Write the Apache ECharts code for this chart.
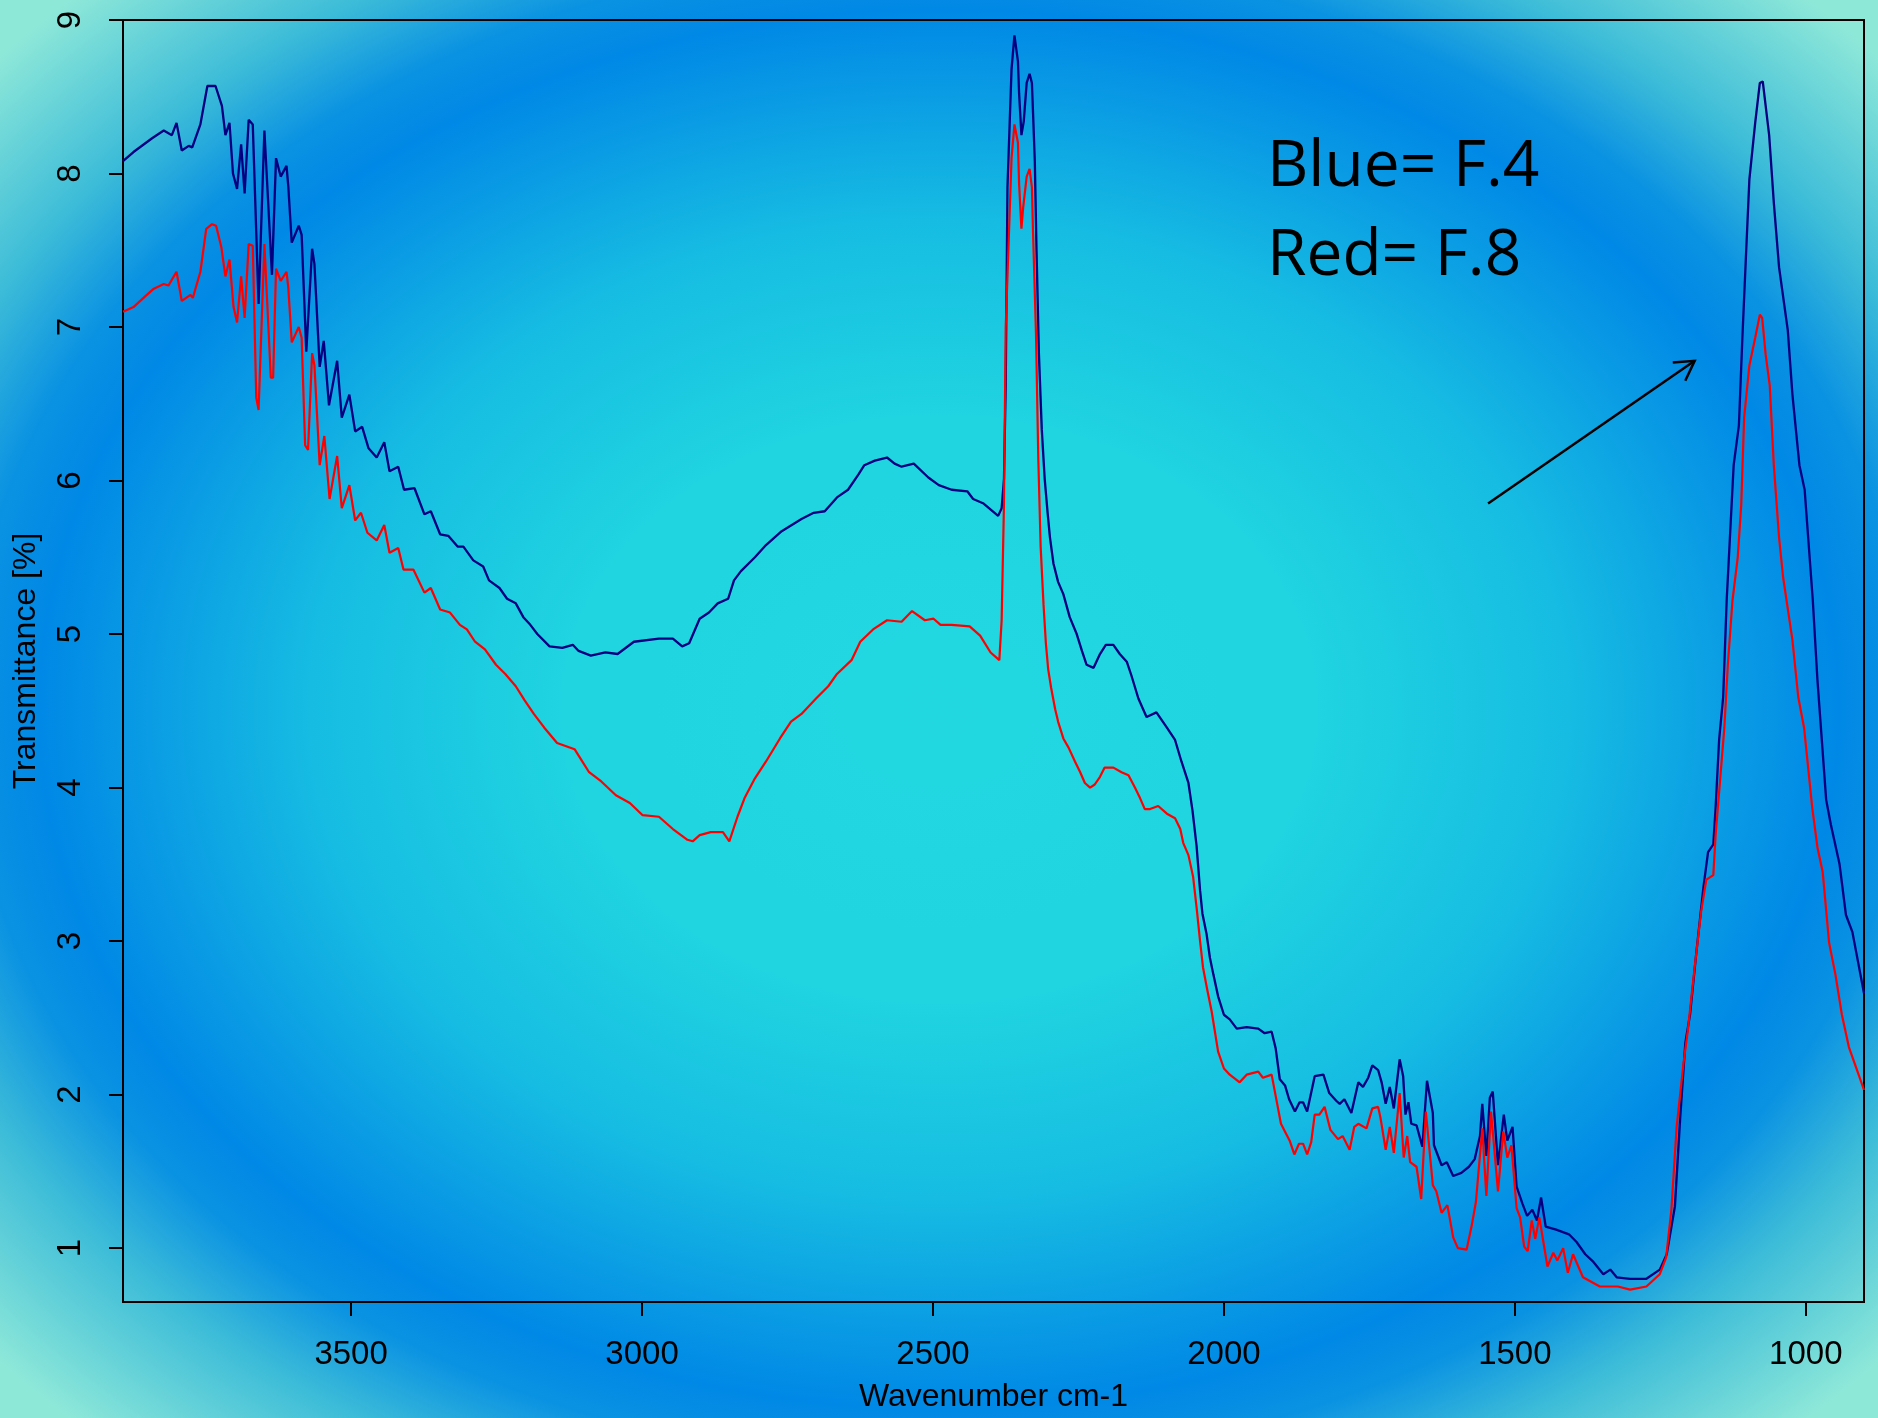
<!DOCTYPE html>
<html>
<head>
<meta charset="utf-8">
<title>FTIR F.4 / F.8</title>
<script src="https://cdn.jsdelivr.net/npm/echarts@6/dist/echarts.min.js"></script>
<style>
  html, body { margin: 0; padding: 0; }
  #main {
    width: 1878px;
    height: 1418px;
    /* slide background: cyan centre, blue ring, aqua corners */
    background: radial-gradient(ellipse 900px 700px at 50% 50%,
      #22d8e0 0%, #20d4e0 42%, #16bce2 70%, #0a9ce4 88%, #0088e6 100%,
      #0a92e2 108%, #3cbcd8 120%, #8ee8d8 140%);
  }
</style>
</head>
<body>
<div id="main"></div>
<script>
// tick values
const xTicks = [1000, 1500, 2000, 2500, 3000, 3500]
const yTicks = [1, 2, 3, 4, 5, 6, 7, 8, 9]

// blue = F.4 (wavenumber, transmittance)
const blueWn = [3892, 3874, 3842, 3822, 3808, 3800, 3791, 3779, 3773, 3759, 3747, 3733, 3722, 3716, 3709, 3703, 3696, 3689, 3683, 3676,
  3669, 3659, 3649, 3636, 3629, 3621, 3611, 3608, 3602, 3590, 3585, 3577, 3567, 3563, 3554, 3547, 3538, 3524, 3516, 3503,
  3493, 3481, 3470, 3456, 3443, 3434, 3419, 3409, 3391, 3374, 3363, 3347, 3333, 3317, 3307, 3290, 3273, 3263, 3245, 3232,
  3217, 3204, 3192, 3180, 3159, 3137, 3119, 3109, 3088, 3063, 3042, 3014, 2971, 2947, 2931, 2919, 2901, 2885, 2870, 2852,
  2842, 2830, 2806, 2787, 2760, 2726, 2705, 2686, 2665, 2646, 2628, 2618, 2600, 2579, 2566, 2554, 2533, 2508, 2490, 2468,
  2441, 2431, 2413, 2388, 2382, 2378, 2375, 2372, 2365, 2360, 2357, 2354, 2352, 2348, 2344, 2339, 2334, 2330, 2328, 2325,
  2322, 2318, 2313, 2308, 2303, 2299, 2293, 2285, 2276, 2265, 2253, 2244, 2236, 2224, 2213, 2203, 2190, 2179, 2167, 2159,
  2147, 2133, 2116, 2098, 2084, 2073, 2061, 2054, 2047, 2041, 2037, 2030, 2024, 2018, 2010, 2000, 1990, 1978, 1961, 1941,
  1930, 1918, 1911, 1904, 1895, 1888, 1878, 1870, 1864, 1857, 1844, 1829, 1819, 1807, 1801, 1793, 1781, 1769, 1761, 1752,
  1745, 1735, 1729, 1722, 1715, 1708, 1698, 1692, 1688, 1683, 1678, 1669, 1659, 1651, 1641, 1639, 1626, 1617, 1606, 1592,
  1579, 1569, 1560, 1556, 1549, 1543, 1538, 1529, 1519, 1513, 1504, 1497, 1487, 1479, 1470, 1462, 1455, 1447, 1429, 1407,
  1394, 1379, 1365, 1348, 1336, 1325, 1302, 1274, 1251, 1239, 1225, 1216, 1207, 1199, 1188, 1176, 1168, 1159, 1155, 1149,
  1142, 1136, 1124, 1115, 1109, 1103, 1097, 1087, 1079, 1074, 1063, 1055, 1046, 1031, 1023, 1011, 1002, 988, 980, 965,
  957, 942, 931, 920, 900]
const blueT = [8.08, 8.14, 8.23, 8.28, 8.25, 8.33, 8.15, 8.18, 8.17, 8.32, 8.57, 8.57, 8.44, 8.25, 8.33, 8.00, 7.90, 8.19, 7.87, 8.35,
  8.32, 7.15, 8.28, 7.34, 8.10, 7.98, 8.05, 7.92, 7.55, 7.66, 7.60, 6.84, 7.51, 7.41, 6.74, 6.91, 6.49, 6.78, 6.41, 6.56,
  6.32, 6.35, 6.21, 6.15, 6.25, 6.06, 6.09, 5.94, 5.95, 5.78, 5.80, 5.65, 5.64, 5.57, 5.57, 5.48, 5.44, 5.35, 5.30, 5.23,
  5.20, 5.11, 5.06, 5.00, 4.92, 4.91, 4.93, 4.89, 4.86, 4.88, 4.87, 4.95, 4.97, 4.97, 4.92, 4.94, 5.10, 5.14, 5.20, 5.23,
  5.35, 5.41, 5.50, 5.58, 5.67, 5.75, 5.79, 5.80, 5.89, 5.94, 6.04, 6.10, 6.13, 6.15, 6.11, 6.09, 6.11, 6.02, 5.97, 5.94,
  5.93, 5.88, 5.85, 5.77, 5.82, 6.01, 6.62, 7.91, 8.68, 8.90, 8.90, 8.73, 8.52, 8.25, 8.34, 8.59, 8.65, 8.59, 8.39, 8.08,
  7.49, 6.83, 6.33, 6.01, 5.79, 5.63, 5.46, 5.34, 5.26, 5.11, 5.00, 4.89, 4.80, 4.78, 4.87, 4.93, 4.93, 4.87, 4.82, 4.73,
  4.58, 4.46, 4.49, 4.39, 4.31, 4.17, 4.03, 3.85, 3.62, 3.33, 3.18, 3.05, 2.89, 2.78, 2.64, 2.52, 2.49, 2.43, 2.44, 2.43,
  2.40, 2.41, 2.30, 2.10, 2.06, 1.97, 1.89, 1.95, 1.95, 1.89, 2.12, 2.13, 2.01, 1.96, 1.94, 1.97, 1.88, 2.08, 2.05, 2.11,
  2.19, 2.16, 2.08, 1.94, 2.05, 1.91, 2.23, 2.12, 1.87, 1.95, 1.81, 1.80, 1.66, 2.09, 1.88, 1.67, 1.54, 1.56, 1.47, 1.49,
  1.53, 1.58, 1.73, 1.94, 1.60, 1.98, 2.02, 1.54, 1.87, 1.70, 1.79, 1.40, 1.29, 1.21, 1.25, 1.18, 1.33, 1.14, 1.12, 1.09,
  1.04, 0.96, 0.91, 0.83, 0.86, 0.81, 0.80, 0.80, 0.86, 0.96, 1.27, 1.84, 2.34, 2.52, 2.93, 3.35, 3.58, 3.63, 3.87, 4.31,
  4.59, 5.22, 6.10, 6.36, 6.93, 7.45, 7.96, 8.33, 8.59, 8.60, 8.25, 7.81, 7.39, 6.98, 6.56, 6.10, 5.94, 5.22, 4.70, 3.92,
  3.76, 3.50, 3.17, 3.06, 2.66]

// red = F.8
const redWn = [3892, 3874, 3854, 3839, 3822, 3814, 3800, 3791, 3776, 3772, 3759, 3749, 3739, 3732, 3723, 3716, 3709, 3702, 3696, 3689,
  3683, 3676, 3669, 3663, 3659, 3649, 3642, 3638, 3634, 3629, 3621, 3611, 3608, 3602, 3590, 3585, 3579, 3574, 3567, 3563,
  3554, 3546, 3537, 3524, 3516, 3503, 3493, 3483, 3472, 3456, 3443, 3434, 3419, 3410, 3393, 3374, 3363, 3347, 3330, 3313,
  3301, 3287, 3270, 3251, 3235, 3217, 3202, 3186, 3168, 3146, 3116, 3106, 3091, 3070, 3045, 3021, 2999, 2971, 2947, 2922,
  2913, 2901, 2882, 2861, 2850, 2836, 2824, 2806, 2787, 2763, 2744, 2726, 2701, 2680, 2665, 2640, 2625, 2603, 2579, 2554,
  2536, 2514, 2499, 2487, 2468, 2437, 2419, 2401, 2386, 2382, 2378, 2375, 2365, 2360, 2357, 2354, 2352, 2348, 2345, 2339,
  2334, 2330, 2328, 2323, 2319, 2315, 2310, 2306, 2302, 2297, 2290, 2285, 2276, 2267, 2256, 2247, 2239, 2230, 2222, 2213,
  2205, 2190, 2176, 2164, 2153, 2144, 2136, 2127, 2113, 2098, 2084, 2075, 2070, 2061, 2053, 2047, 2041, 2036, 2029, 2021,
  2010, 2000, 1990, 1973, 1961, 1941, 1933, 1918, 1911, 1902, 1887, 1879, 1871, 1864, 1857, 1850, 1844, 1836, 1827, 1817,
  1804, 1796, 1784, 1776, 1769, 1755, 1745, 1735, 1731, 1722, 1715, 1708, 1698, 1691, 1685, 1680, 1669, 1661, 1653, 1641,
  1635, 1626, 1616, 1606, 1598, 1583, 1574, 1567, 1556, 1549, 1541, 1529, 1520, 1513, 1506, 1497, 1491, 1484, 1478, 1471,
  1465, 1458, 1444, 1434, 1427, 1417, 1409, 1400, 1383, 1354, 1323, 1302, 1274, 1251, 1240, 1231, 1222, 1210, 1203, 1191,
  1180, 1171, 1159, 1155, 1149, 1140, 1134, 1126, 1117, 1111, 1106, 1097, 1087, 1079, 1075, 1069, 1062, 1055, 1046, 1039,
  1023, 1013, 1003, 989, 980, 971, 960, 949, 938, 926, 912, 900]
const redT = [7.10, 7.13, 7.20, 7.25, 7.28, 7.27, 7.36, 7.17, 7.21, 7.19, 7.36, 7.64, 7.67, 7.66, 7.52, 7.33, 7.44, 7.13, 7.03, 7.33,
  7.06, 7.54, 7.53, 6.54, 6.46, 7.54, 6.99, 6.67, 6.67, 7.38, 7.30, 7.36, 7.26, 6.90, 7.00, 6.93, 6.23, 6.20, 6.83, 6.75,
  6.10, 6.29, 5.88, 6.16, 5.82, 5.97, 5.74, 5.79, 5.66, 5.61, 5.71, 5.53, 5.56, 5.42, 5.42, 5.27, 5.30, 5.16, 5.14, 5.06,
  5.03, 4.95, 4.90, 4.80, 4.74, 4.66, 4.57, 4.48, 4.39, 4.29, 4.25, 4.19, 4.10, 4.04, 3.95, 3.90, 3.82, 3.81, 3.73, 3.66,
  3.65, 3.69, 3.71, 3.71, 3.65, 3.81, 3.93, 4.06, 4.17, 4.32, 4.43, 4.48, 4.58, 4.66, 4.74, 4.83, 4.95, 5.03, 5.09, 5.08,
  5.15, 5.09, 5.10, 5.06, 5.06, 5.05, 4.99, 4.88, 4.83, 5.09, 5.85, 7.00, 8.10, 8.32, 8.31, 8.20, 7.93, 7.64, 7.78, 7.98,
  8.03, 7.91, 7.61, 6.96, 6.14, 5.57, 5.19, 4.94, 4.77, 4.65, 4.51, 4.43, 4.32, 4.26, 4.17, 4.10, 4.03, 4.00, 4.02, 4.07,
  4.13, 4.13, 4.10, 4.08, 4.00, 3.93, 3.86, 3.86, 3.88, 3.83, 3.80, 3.73, 3.64, 3.56, 3.42, 3.22, 3.00, 2.83, 2.69, 2.54,
  2.28, 2.17, 2.13, 2.08, 2.13, 2.15, 2.11, 2.13, 1.99, 1.81, 1.70, 1.61, 1.68, 1.68, 1.61, 1.69, 1.87, 1.87, 1.92, 1.77,
  1.71, 1.73, 1.64, 1.79, 1.81, 1.78, 1.91, 1.92, 1.85, 1.64, 1.79, 1.62, 2.01, 1.59, 1.73, 1.56, 1.53, 1.32, 1.89, 1.41,
  1.37, 1.23, 1.28, 1.07, 1.00, 0.99, 1.15, 1.30, 1.78, 1.34, 1.89, 1.37, 1.76, 1.59, 1.67, 1.26, 1.20, 1.01, 0.98, 1.18,
  1.06, 1.20, 0.88, 0.97, 0.92, 1.00, 0.84, 0.96, 0.81, 0.75, 0.75, 0.73, 0.75, 0.83, 0.94, 1.25, 1.79, 2.21, 2.41, 2.83,
  3.19, 3.40, 3.43, 3.69, 3.97, 4.39, 4.80, 5.22, 5.50, 5.84, 6.41, 6.75, 6.93, 7.08, 7.06, 6.82, 6.62, 6.10, 5.63, 5.37,
  4.96, 4.59, 4.39, 3.87, 3.61, 3.45, 2.99, 2.78, 2.52, 2.31, 2.16, 2.03]

// arrow (tail, head) in data coords
const arrowFrom = [1546, 5.85]
const arrowTo = [1191, 6.78]

const axisFont = 'Liberation Sans, Arial, sans-serif'
const noteFont = '64px "Open Sans", "Noto Sans", sans-serif'

function pairs (xs, ys) {
  return xs.map((x, i) => [x, ys[i]])
}

const chart = echarts.init(document.getElementById('main'), null, { renderer: 'canvas' })

const option = {
  backgroundColor: 'transparent',
  animation: false,
  grid: {
    left: 123,
    right: 14,
    top: 20,
    bottom: 114,
    show: true,
    borderColor: '#000',
    borderWidth: 2,
    backgroundColor: 'transparent'
  },
  xAxis: {
    type: 'value',
    min: 900,
    max: 3892,
    inverse: true,
    name: 'Wavenumber cm-1',
    nameLocation: 'middle',
    nameGap: 79,
    nameTextStyle: { fontSize: 32, fontFamily: axisFont, color: '#000' },
    axisLine: { show: true, onZero: false, lineStyle: { color: '#000', width: 2 } },
    axisTick: { show: true, inside: false, length: 14, customValues: xTicks, lineStyle: { color: '#000', width: 2 } },
    axisLabel: {
      customValues: xTicks,
      formatter: v => String(v),
      fontSize: 33,
      fontFamily: axisFont,
      color: '#000',
      margin: 36
    },
    splitLine: { show: false }
  },
  yAxis: {
    type: 'value',
    min: 0.649,
    max: 9,
    name: 'Transmittance [%]',
    nameLocation: 'middle',
    nameRotate: 90,
    nameGap: 81,
    nameTextStyle: { fontSize: 32, fontFamily: axisFont, color: '#000' },
    axisLine: { show: true, onZero: false, lineStyle: { color: '#000', width: 2 } },
    axisTick: { show: true, inside: false, length: 14, customValues: yTicks, lineStyle: { color: '#000', width: 2 } },
    axisLabel: {
      customValues: yTicks,
      formatter: v => String(v),
      rotate: 90,
      fontSize: 33,
      fontFamily: axisFont,
      color: '#000',
      margin: 36
    },
    splitLine: { show: false }
  },
  series: [
    {
      name: 'F.4',
      type: 'line',
      data: pairs(blueWn, blueT),
      showSymbol: false,
      lineStyle: { color: '#000080', width: 2.3 },
      z: 2
    },
    {
      name: 'F.8',
      type: 'line',
      data: pairs(redWn, redT),
      showSymbol: false,
      lineStyle: { color: '#ff0000', width: 2.2 },
      z: 3
    }
  ]
}
chart.setOption(option)

// annotations: legend text + arrow, placed from data coords
function drawNotes () {
  const p0 = chart.convertToPixel({ gridIndex: 0 }, arrowFrom)
  const p1 = chart.convertToPixel({ gridIndex: 0 }, arrowTo)
  const ang = Math.atan2(p1[1] - p0[1], p1[0] - p0[0])
  const headLen = 22
  const spread = Math.PI / 6
  const a1 = [p1[0] - headLen * Math.cos(ang - spread), p1[1] - headLen * Math.sin(ang - spread)]
  const a2 = [p1[0] - headLen * Math.cos(ang + spread), p1[1] - headLen * Math.sin(ang + spread)]
  const t1 = chart.convertToPixel({ gridIndex: 0 }, [1926, 7.93])
  const t2 = chart.convertToPixel({ gridIndex: 0 }, [1926, 7.355])
  chart.setOption({
    graphic: [
      { type: 'polyline', shape: { points: [p0, p1] }, style: { stroke: '#000', lineWidth: 2.5, fill: null } },
      { type: 'polyline', shape: { points: [a1, p1, a2] }, style: { stroke: '#000', lineWidth: 2.5, fill: null } },
      { type: 'text', x: t1[0], y: t1[1] - 16, style: { text: 'Blue= F.4', font: noteFont, fill: '#000', verticalAlign: 'middle' } },
      { type: 'text', x: t2[0], y: t2[1] - 16, style: { text: 'Red= F.8', font: noteFont, fill: '#000', verticalAlign: 'middle' } }
    ]
  })
}
drawNotes()
</script>
</body>
</html>
